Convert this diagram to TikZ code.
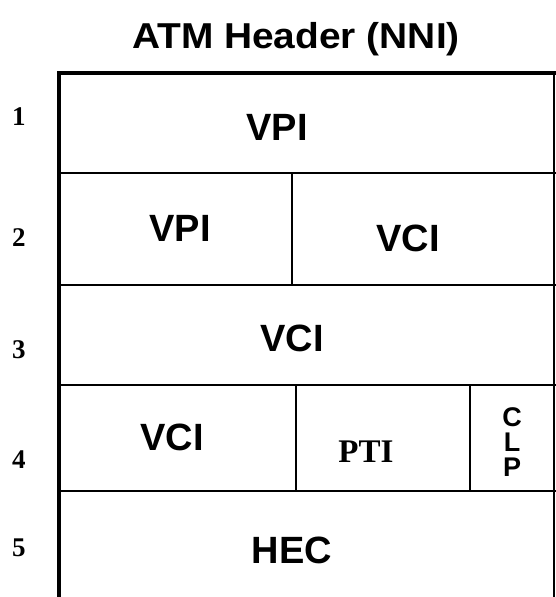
\documentclass[tikz,border=0pt]{standalone}
\usepackage{fontspec}
\setmainfont{Liberation Serif}
\setsansfont{Liberation Sans}
\begin{document}
\begin{tikzpicture}[x=1pt,y=-1pt,
  lab/.style={font=\sffamily\bfseries\fontsize{38}{38}\selectfont, inner sep=0pt},
  small/.style={font=\sffamily\bfseries\fontsize{27}{27}\selectfont, inner sep=0pt},
  num/.style={font=\rmfamily\bfseries\fontsize{27}{27}\selectfont, inner sep=0pt},
  pti/.style={font=\rmfamily\bfseries\fontsize{33}{33}\selectfont, inner sep=0pt},
  ttl/.style={font=\sffamily\bfseries\fontsize{36}{36}\selectfont, inner sep=0pt, anchor=base, xscale=1.08},
  thick line/.style={line width=4pt},
  grid line/.style={line width=2.6pt}]
\useasboundingbox (0,0) rectangle (556,597);
% frame
\draw[thick line] (59,597) -- (59,71);
\draw[line width=3.2pt] (57,73) -- (556,73);
\draw[grid line] (554,72) -- (554,597);
% row dividers
\draw[grid line] (59,173) -- (556,173);
\draw[grid line] (59,285) -- (556,285);
\draw[grid line] (59,385) -- (556,385);
\draw[grid line] (59,491) -- (556,491);
% cell dividers
\draw[grid line] (292,173) -- (292,285);
\draw[grid line] (296,385) -- (296,491);
\draw[grid line] (470,385) -- (470,491);
% title
\node[ttl] (title) at (296,48) {ATM Header (NNI)};
% row numbers
\node[num] (n1) at (19,117) {1};
\node[num] (n2) at (19,238) {2};
\node[num] (n3) at (19,350) {3};
\node[num] (n4) at (19,460) {4};
\node[num] (n5) at (19,548) {5};
% labels
\node[lab] (vpi1) at (277,127) {VPI};
\node[lab] (vpi2) at (180,228) {VPI};
\node[lab] (vci2) at (408,238) {VCI};
\node[lab] (vci3) at (292,338) {VCI};
\node[lab] (vci4) at (172,437) {VCI};
\node[pti] (pti) at (366,452) {PTI};
\node[small] (clpc) at (512,417) {C};
\node[small] (clpl) at (512,442) {L};
\node[small] (clpp) at (512,467) {P};
\node[lab] (hec) at (292,550) {HEC};
\end{tikzpicture}
\end{document}
